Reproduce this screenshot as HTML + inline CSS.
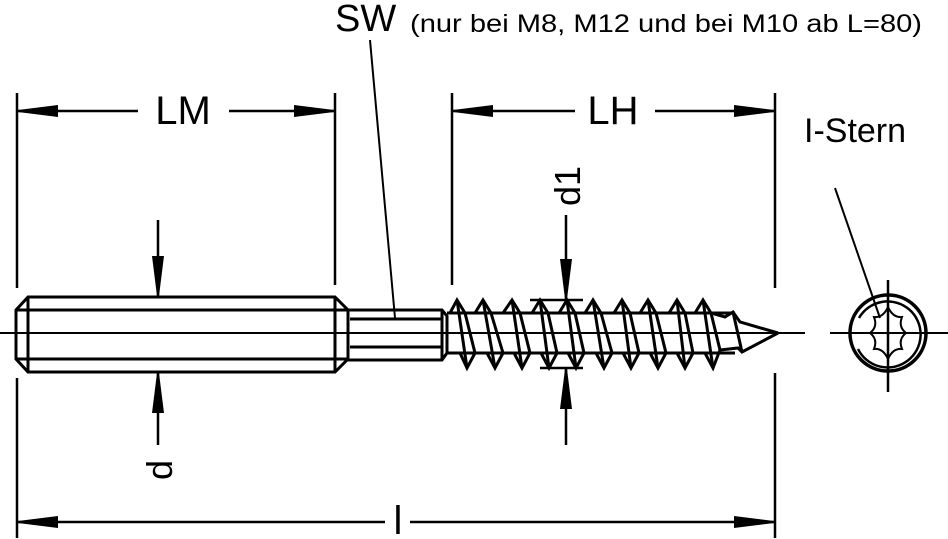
<!DOCTYPE html>
<html><head><meta charset="utf-8"><style>
html,body{margin:0;padding:0;background:#fff;}
svg{display:block;}
text{font-family:"Liberation Sans",sans-serif;fill:#000;}
</style></head><body>
<svg width="948" height="539" viewBox="0 0 948 539" xmlns="http://www.w3.org/2000/svg">
<defs>
<marker id="a" viewBox="0 0 40 12" refX="40" refY="6" markerWidth="40" markerHeight="12" markerUnits="userSpaceOnUse" orient="auto-start-reverse">
<path d="M0,0 L40,5 L40,7 L0,12 Z" fill="#000"/></marker>
</defs>
<g stroke="#000" fill="none" stroke-width="2.5">
<line x1="17" y1="93" x2="17" y2="288"/>
<line x1="335" y1="93" x2="335" y2="285"/>
<line x1="452" y1="93" x2="452" y2="285"/>
<line x1="775" y1="93" x2="775" y2="288"/>
<line x1="17" y1="378" x2="17" y2="538"/>
<line x1="775" y1="373" x2="775" y2="538"/>
<line x1="888" y1="280" x2="888" y2="392"/>
<line x1="18" y1="111" x2="138" y2="111" marker-start="url(#a)"/>
<line x1="229" y1="111" x2="334" y2="111" marker-end="url(#a)"/>
<line x1="453" y1="111" x2="575" y2="111" marker-start="url(#a)"/>
<line x1="655" y1="111" x2="774" y2="111" marker-end="url(#a)"/>
<line x1="18" y1="522" x2="385" y2="522" marker-start="url(#a)"/>
<line x1="410" y1="522" x2="774" y2="522" marker-end="url(#a)"/>
<line x1="158" y1="220" x2="158" y2="296" marker-end="url(#a)"/>
<line x1="158" y1="445" x2="158" y2="373" marker-end="url(#a)"/>
<line x1="566" y1="215" x2="566" y2="299" marker-end="url(#a)"/>
<line x1="566" y1="445" x2="566" y2="369" marker-end="url(#a)"/>
<line x1="530" y1="300" x2="583" y2="300"/>
<line x1="540" y1="368" x2="583" y2="368"/>
<line x1="0" y1="333" x2="805" y2="333" stroke-width="2"/>
<line x1="830" y1="333" x2="948" y2="333" stroke-width="2"/>
<line x1="370" y1="40" x2="395" y2="318" stroke-width="2"/>
<line x1="835" y1="188" x2="880" y2="318" stroke-width="2"/>
<g stroke-width="3">
<polygon points="28,297 335,297 348,310 348,359 335,372 28,372 16,359 16,310"/>
<line x1="16" y1="310" x2="348" y2="310"/>
<line x1="16" y1="359" x2="348" y2="359"/>
<line x1="28" y1="297" x2="28" y2="372"/>
<line x1="335" y1="297" x2="335" y2="372"/>
<polyline points="348,310 442,310 447,316 447,353 442,360 348,360"/>
<line x1="350" y1="319" x2="442" y2="319"/>
<line x1="350" y1="347" x2="442" y2="347"/>
<line x1="442" y1="310" x2="442" y2="360"/>
<line x1="447" y1="313" x2="735" y2="313"/>
<line x1="447" y1="353" x2="735" y2="353"/>
<polyline points="450,313 457,300 465,313 475,313 483,300 491,313 503,313 512,300 520,313 532,313 540,300 548,313 559,313 567,300 575,313 585,313 593,300 601,313 614,313 622,300 630,313 640,313 648,300 656,313 669,313 677,300 685,313 695,313 703,300 711,313 725,317 733,312 740,322 778,333"/>
<polyline points="460,353 467,368 475,353 487,353 495,368 503,353 514,353 522,368 530,353 541,353 549,368 557,353 568,353 576,368 584,353 596,353 604,368 612,353 623,353 631,368 639,353 650,353 658,368 666,353 677,353 685,368 693,353 705,353 713,368 720,350 738,348 742,352 778,333"/>
<g stroke-width="3">
<line x1="457" y1="300" x2="467" y2="368"/><line x1="483" y1="300" x2="495" y2="368"/>
<line x1="512" y1="300" x2="522" y2="368"/><line x1="540" y1="300" x2="549" y2="368"/>
<line x1="567" y1="300" x2="576" y2="368"/><line x1="593" y1="300" x2="604" y2="368"/>
<line x1="622" y1="300" x2="631" y2="368"/><line x1="648" y1="300" x2="658" y2="368"/>
<line x1="677" y1="300" x2="685" y2="368"/><line x1="703" y1="300" x2="713" y2="368"/>
<line x1="465" y1="313" x2="475" y2="353"/><line x1="491" y1="313" x2="503" y2="353"/>
<line x1="520" y1="313" x2="530" y2="353"/><line x1="548" y1="313" x2="557" y2="353"/>
<line x1="575" y1="313" x2="584" y2="353"/><line x1="601" y1="313" x2="612" y2="353"/>
<line x1="630" y1="313" x2="639" y2="353"/><line x1="656" y1="313" x2="666" y2="353"/>
<line x1="685" y1="313" x2="693" y2="353"/><line x1="711" y1="313" x2="720" y2="350"/>
<line x1="733" y1="312" x2="742" y2="352"/>
</g>
</g>
<circle cx="888" cy="333" r="38" stroke-width="3.5"/>
<path d="M858,349 A33,33 0 1 0 859,318" stroke-width="2.5"/>
<path d="M888,307 Q893,318 902,317 Q898,327 906,333 Q898,339 902,349 Q893,348 888,359 Q883,348 874,349 Q878,339 870,333 Q878,327 874,317 Q883,318 888,307 Z" stroke-width="2"/>
</g>
<text x="183" y="124" font-size="40" text-anchor="middle">LM</text>
<text x="613" y="124" font-size="40" text-anchor="middle">LH</text>
<text x="398" y="534" font-size="40" text-anchor="middle">l</text>
<text x="335" y="31" font-size="38">SW</text>
<text x="410" y="32" font-size="25" textLength="512" lengthAdjust="spacingAndGlyphs">(nur bei M8, M12 und bei M10 ab L=80)</text>
<text x="804" y="142" font-size="34">I-Stern</text>
<text transform="translate(172,470) rotate(-90)" font-size="36" text-anchor="middle">d</text>
<text transform="translate(580,186) rotate(-90)" font-size="36" text-anchor="middle">d1</text>
</svg>
</body></html>
